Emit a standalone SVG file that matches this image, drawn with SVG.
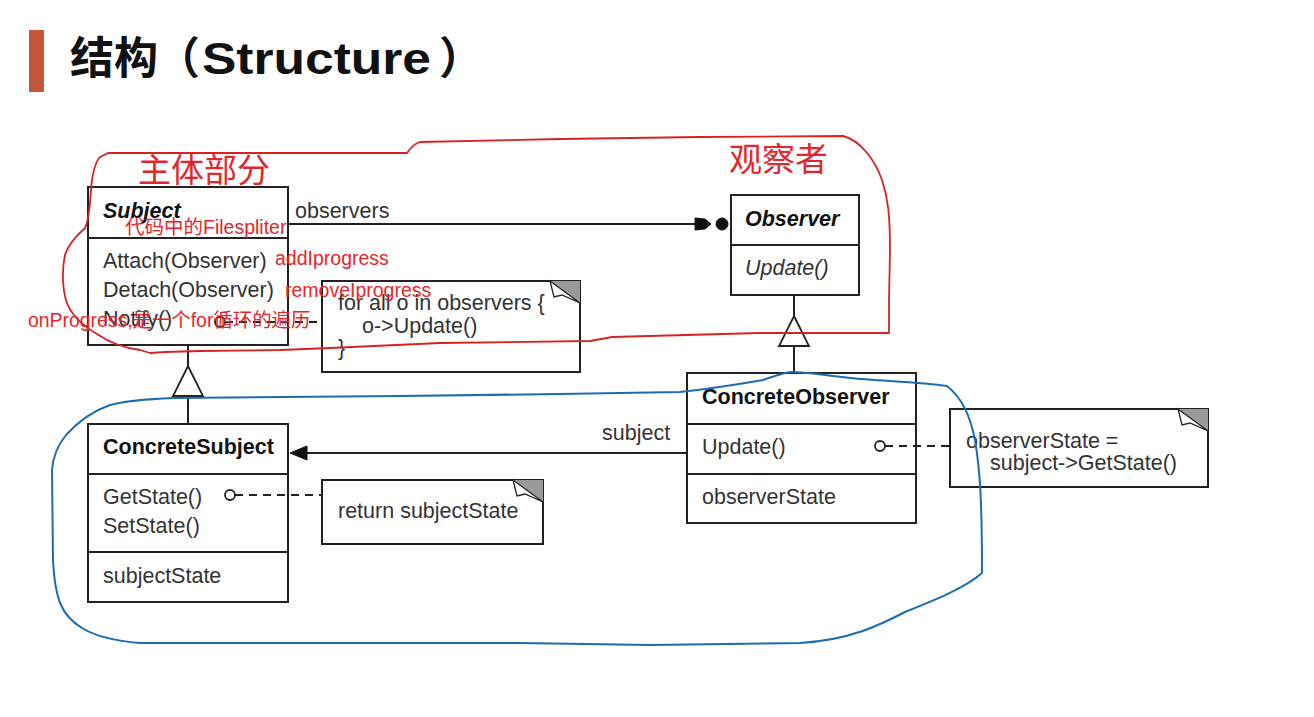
<svg xmlns="http://www.w3.org/2000/svg" width="1314" height="717" viewBox="0 0 1314 717">
  <defs>
    <style>
      .box{fill:#fff;stroke:#222;stroke-width:2}
      .sep{stroke:#222;stroke-width:2}
      .t{font-family:"Liberation Sans",Arial,sans-serif;font-size:21.5px;fill:#333}
      .name{font-weight:bold;fill:#111}
      .abs{font-style:italic}
      .line{stroke:#222;stroke-width:2;fill:none}
      .dash{stroke:#222;stroke-width:1.8;stroke-dasharray:8 6;fill:none}
      .pin{fill:#fff;stroke:#222;stroke-width:1.8}
      .head{fill:#111;stroke:#111;stroke-width:1}
      .red{font-family:"Liberation Sans","Noto Sans CJK SC",sans-serif;fill:#e3262b}
      .redline{fill:none;stroke:#d9221f;stroke-width:1.8;stroke-linejoin:round}
      .blueline{fill:none;stroke:#1c6cb0;stroke-width:2;stroke-linejoin:round}
    </style>
    <!-- hollow generalization triangle, apex at origin -->
    <polygon id="gen" points="0,0 15,30 -15,30" class="pin"/>
    <!-- folded corner of a note, anchored at the note's top-right corner -->
    <g id="fold">
      <polygon points="-30,0 0,0 0,22" fill="#9a9a9a"/>
      <polygon points="-30,0 -26,16 -18,14 0,22" fill="#fff" stroke="#222" stroke-width="1.3"/>
    </g>
  </defs>

  <rect width="1314" height="717" fill="#fff"/>

  <!-- slide title -->
  <g id="title">
    <rect x="29" y="30" width="15" height="62" fill="#c4573a"/>
    <text y="74" font-weight="bold" fill="#111">
      <tspan x="70" font-family="Noto Sans CJK SC,sans-serif" font-size="44">结构</tspan><tspan x="156" font-family="Noto Sans CJK SC,sans-serif" font-size="44">（</tspan><tspan x="202" font-family="Liberation Sans,Arial,sans-serif" font-size="44" textLength="229" lengthAdjust="spacingAndGlyphs">Structure</tspan><tspan x="439" font-family="Noto Sans CJK SC,sans-serif" font-size="44">）</tspan>
    </text>
  </g>

  <!-- Subject -->
  <g id="subject">
    <rect class="box" x="88" y="187" width="200" height="158"/>
    <line class="sep" x1="88" y1="238" x2="288" y2="238"/>
    <text class="t name abs" x="103" y="218">Subject</text>
    <text class="t" x="103" y="268">Attach(Observer)</text>
    <text class="t" x="103" y="297">Detach(Observer)</text>
    <text class="t" x="103" y="326">Notify()</text>
  </g>

  <!-- Observer -->
  <g id="observer">
    <rect class="box" x="731" y="195" width="128" height="100"/>
    <line class="sep" x1="731" y1="245" x2="859" y2="245"/>
    <text class="t name abs" x="745" y="226">Observer</text>
    <text class="t abs" x="745" y="275">Update()</text>
  </g>

  <!-- ConcreteSubject -->
  <g id="concrete-subject">
    <rect class="box" x="88" y="424" width="200" height="178"/>
    <line class="sep" x1="88" y1="474" x2="288" y2="474"/>
    <line class="sep" x1="88" y1="552" x2="288" y2="552"/>
    <text class="t name" x="103" y="454">ConcreteSubject</text>
    <text class="t" x="103" y="504">GetState()</text>
    <text class="t" x="103" y="533">SetState()</text>
    <text class="t" x="103" y="583">subjectState</text>
  </g>

  <!-- ConcreteObserver -->
  <g id="concrete-observer">
    <rect class="box" x="687" y="373" width="229" height="150"/>
    <line class="sep" x1="687" y1="424" x2="916" y2="424"/>
    <line class="sep" x1="687" y1="474" x2="916" y2="474"/>
    <text class="t name" x="702" y="404">ConcreteObserver</text>
    <text class="t" x="702" y="454">Update()</text>
    <text class="t" x="702" y="504">observerState</text>
  </g>

  <!-- notes -->
  <g id="note-notify">
    <rect class="box" x="322" y="281" width="258" height="91"/>
    <use href="#fold" x="580" y="281"/>
    <text class="t" x="338" y="310">for all o in observers {</text>
    <text class="t" x="362" y="333">o-&gt;Update()</text>
    <text class="t" x="338" y="355">}</text>
  </g>

  <g id="note-getstate">
    <rect class="box" x="322" y="480" width="221" height="64"/>
    <use href="#fold" x="543" y="480"/>
    <text class="t" x="338" y="518">return subjectState</text>
  </g>

  <g id="note-update">
    <rect class="box" x="950" y="409" width="258" height="78"/>
    <use href="#fold" x="1208" y="409"/>
    <text class="t" x="966" y="448">observerState =</text>
    <text class="t" x="990" y="470">subject-&gt;GetState()</text>
  </g>

  <!-- connectors -->
  <g id="connectors">
    <!-- Subject -> Observer (observers) -->
    <line class="line" x1="288" y1="224" x2="700" y2="224"/>
    <path class="head" d="M695,218 L705,219 L711,224 L705,229 L695,230 Z"/>
    <circle class="head" cx="722" cy="224" r="6"/>
    <text class="t" x="295" y="218">observers</text>

    <!-- ConcreteObserver -> ConcreteSubject (subject) -->
    <line class="line" x1="687" y1="453" x2="300" y2="453"/>
    <path class="head" d="M290,453 L307,446 L307,460 Z"/>
    <text class="t" x="602" y="440">subject</text>

    <!-- generalizations -->
    <line class="line" x1="188" y1="345" x2="188" y2="424"/>
    <use href="#gen" x="188" y="366"/>
    <line class="line" x1="794" y1="295" x2="794" y2="373"/>
    <use href="#gen" x="794" y="316"/>

    <!-- note attachments -->
    <line class="dash" x1="225" y1="322" x2="322" y2="322"/>
    <circle class="pin" cx="220" cy="322" r="5"/>
    <line class="dash" x1="235" y1="495" x2="322" y2="495"/>
    <circle class="pin" cx="230" cy="495" r="5"/>
    <line class="dash" x1="885" y1="446" x2="950" y2="446"/>
    <circle class="pin" cx="880" cy="446" r="5"/>
  </g>

  <!-- hand-drawn annotations -->
  <g id="annotations">
    <path class="redline" d="M108,153 L300,153 L407,153 C410,149 413,144 420,142 L560,139 L700,137 L843,136 C860,140 875,160 882,180 C888,198 890,215 890,250 L889,300 L889,333 L760,333 L612,337 L590,341 L440,343 L330,348 L280,350 L200,351 L165,352 L150,353 L140,350 C125,348 110,343 97,334 C85,327 72,316 67,303 C62,290 62,268 65,255 C68,245 76,236 85,228 C89,220 90,205 91,190 C92,175 95,163 100,157 Z"/>
    <path class="blueline" d="M173,398 L400,396 L560,394 L680,392 C710,389 740,384 763,380 C775,376 785,372 792,372 C805,372 815,374 850,378 C880,381 920,382 947,386 C962,398 970,415 975,440 C980,470 982,500 982,573 C965,588 935,600 905,612 C880,625 850,640 800,643 L650,645 L520,643 L300,643 L140,643 C115,641 95,636 82,628 C62,616 55,600 53,560 L52,470 C53,455 58,445 66,435 C75,425 90,412 110,405 C130,400 150,399 173,398 Z"/>

    <text class="red" x="138" y="182" font-size="33">主体部分</text>
    <text class="red" x="729" y="171" font-size="33">观察者</text>
    <text class="red" x="125" y="234" font-size="19.5">代码中的Filespliter</text>
    <text class="red" x="275" y="265" font-size="19.5">addIprogress</text>
    <text class="red" x="285" y="297" font-size="19.5">removeIprogress</text>
    <text class="red" x="28" y="327" font-size="19.4">onProgress,是一个for循环的遍历</text>
  </g>
</svg>
